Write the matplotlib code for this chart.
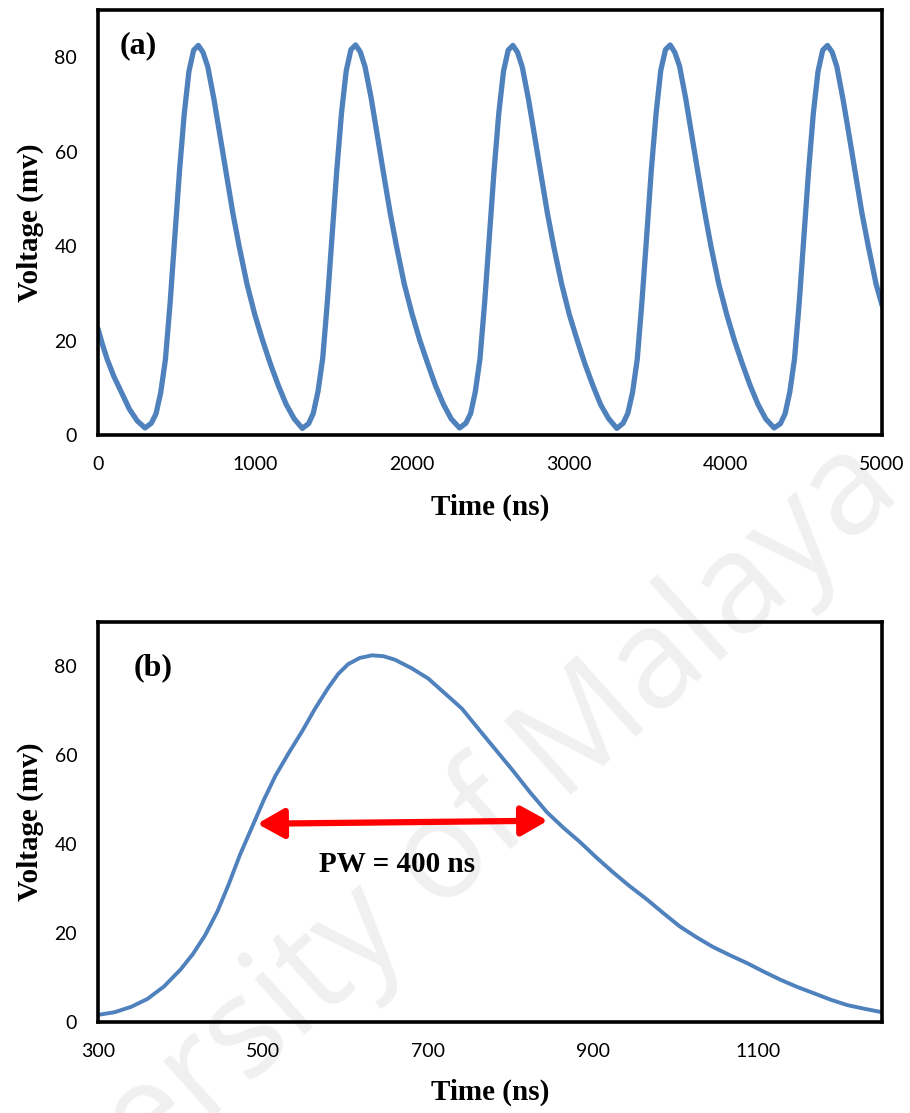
"""
Pulse train (a) and single pulse (b), voltage vs time
"""

# %% Imports

import matplotlib
matplotlib.use('Agg')
import matplotlib.pyplot as plt


# %% Data

# (a) pulse train, 0 - 5000 ns
time_a = [0, 30, 60, 100, 150, 200, 250,
          300, 340, 370, 400, 430, 460, 490, 520, 550, 580, 610, 640,
          670, 700, 740, 780, 820, 860, 900, 950, 1000, 1050, 1100, 1150,
          1200, 1250,
          1303, 1343, 1373, 1403, 1433, 1463, 1493, 1523, 1553, 1583, 1613,
          1643, 1673, 1703, 1743, 1783, 1823, 1863, 1903, 1953, 2003, 2053,
          2103, 2153, 2203, 2253,
          2306, 2346, 2376, 2406, 2436, 2466, 2496, 2526, 2556, 2586, 2616,
          2646, 2676, 2706, 2746, 2786, 2826, 2866, 2906, 2956, 3006, 3056,
          3106, 3156, 3206, 3256,
          3309, 3349, 3379, 3409, 3439, 3469, 3499, 3529, 3559, 3589, 3619,
          3649, 3679, 3709, 3749, 3789, 3829, 3869, 3909, 3959, 4009, 4059,
          4109, 4159, 4209, 4259,
          4312, 4352, 4382, 4412, 4442, 4472, 4502, 4532, 4562, 4592, 4622,
          4652, 4682, 4712, 4752, 4792, 4832, 4872, 4912, 4962, 5000]
volt_a = [22.5, 19.0, 15.9, 12.5, 9.0, 5.5, 3.0,
          1.5, 2.5, 4.5, 9.0, 16.0, 28.0, 42.0, 56.0, 68.0, 77.0, 81.5, 82.5,
          81.0, 78.0, 71.0, 63.0, 55.0, 47.0, 40.0, 32.0, 25.5, 20.0, 15.0,
          10.5, 6.5, 3.5,
          1.4, 2.4, 4.6, 9.2, 16.2, 28.3, 42.2, 56.1, 68.2, 77.1, 81.6,
          82.6, 81.1, 78.0, 71.2, 63.1, 55.0, 47.1, 40.1, 32.0, 25.6, 20.0,
          15.1, 10.4, 6.5, 3.4,
          1.5, 2.5, 4.5, 9.1, 16.1, 28.1, 42.1, 56.0, 68.1, 77.0, 81.5,
          82.5, 81.0, 77.9, 71.0, 63.0, 55.1, 47.0, 40.0, 32.1, 25.5, 20.1,
          15.0, 10.5, 6.4, 3.5,
          1.4, 2.5, 4.6, 9.0, 16.0, 28.2, 42.0, 56.2, 68.0, 77.2, 81.6,
          82.6, 81.0, 78.1, 71.1, 63.0, 55.0, 47.2, 40.0, 32.0, 25.6, 20.0,
          15.1, 10.5, 6.5, 3.4,
          1.5, 2.4, 4.5, 9.1, 16.1, 28.0, 42.1, 56.0, 68.1, 77.0, 81.5,
          82.5, 81.1, 78.0, 71.0, 63.1, 55.0, 47.0, 40.1, 32.0, 27.5]

# (b) single pulse, 300 - 1250 ns
time_b = [300, 320, 340, 360, 380, 400, 415, 430, 445, 458, 472, 487,
          501, 515, 531, 547, 563, 579, 591, 603, 617, 632, 646, 660, 680,
          700, 720, 741, 763, 783, 803, 823, 844, 864, 884, 904, 924, 944,
          965, 985, 1005, 1025, 1045, 1066, 1087, 1107, 1127, 1147, 1167,
          1188, 1208, 1228, 1250]
volt_b = [1.6, 2.2, 3.4, 5.2, 8.0, 11.8, 15.3, 19.6, 25.0, 30.8, 37.6,
          44.0, 50.0, 55.4, 60.5, 65.3, 70.5, 75.2, 78.3, 80.5, 81.9, 82.5,
          82.3, 81.5, 79.6, 77.3, 74.0, 70.5, 65.5, 61.0, 56.5, 51.8, 47.2,
          43.7, 40.5, 37.0, 33.7, 30.6, 27.6, 24.5, 21.5, 19.1, 16.9, 15.0,
          13.2, 11.3, 9.5, 7.9, 6.5, 5.0, 3.8, 3.0, 2.2]

# pulse width arrow ends (ns, mV)
pw_left = (493, 44.6)
pw_right = (845, 45.3)

yticks = [0, 20, 40, 60, 80]
xticks_a = [0, 1000, 2000, 3000, 4000, 5000]
xticks_b = [300, 500, 700, 900, 1100]


# %% Figure

blue = '#4F81BD'
serif = 'Liberation Serif'
tickfont = 'Lato'

fig = plt.figure(figsize=(9.1, 11.13), dpi=100)

# watermark behind everything
bg = fig.add_axes([0, 0, 1, 1], zorder=-1)
bg.axis('off')
bg.text(0.432, 0.186, 'University of Malaya', transform=bg.transAxes,
        rotation=42, ha='center', va='center', fontsize=100,
        family='Open Sans', color='#F0F0F0')


def style_axes(ax):
    """
    Excel-like frame: thick black box, no tick marks
    """
    for s in ax.spines.values():
        s.set_linewidth(2.6)
        s.set_color('black')
    ax.set_facecolor('none')
    ax.tick_params(length=0, pad=15, labelsize=14)
    for lab in ax.get_xticklabels() + ax.get_yticklabels():
        lab.set_family(tickfont)


# %% (a) pulse train

ax1 = fig.add_axes([98 / 910, 1 - 435 / 1113, 784 / 910, 425 / 1113])
ax1.plot(time_a, volt_a, color=blue, lw=3.8, solid_joinstyle='round',
         solid_capstyle='round')
ax1.set_xlim(0, 5000)
ax1.set_ylim(0, 90)
ax1.set_xticks(xticks_a)
ax1.set_yticks(yticks)
style_axes(ax1)
ax1.text(0.028, 0.915, '(a)', transform=ax1.transAxes, fontsize=23,
         fontweight='bold', family=serif, va='center')


# %% (b) single pulse

ax2 = fig.add_axes([98 / 910, 1 - 1022 / 1113, 784 / 910, 400 / 1113])
ax2.plot(time_b, volt_b, color=blue, lw=2.8, solid_joinstyle='round')
ax2.set_xlim(300, 1250)
ax2.set_ylim(0, 90)
ax2.set_xticks(xticks_b)
ax2.set_yticks(yticks)
style_axes(ax2)
ax2.text(0.045, 0.885, '(b)', transform=ax2.transAxes, fontsize=23,
         fontweight='bold', family=serif, va='center')

ax2.annotate('', xy=pw_left, xytext=pw_right,
             arrowprops=dict(arrowstyle='<|-|>,head_length=0.8,head_width=0.45',
                             color='#FF0000', lw=4.5, mutation_scale=20,
                             shrinkA=0, shrinkB=0))
ax2.text(662, 35.5, 'PW = 400 ns', fontsize=21, fontweight='bold',
         family=serif, ha='center', va='center')


# %% Axis labels

for yc in [(435 + 10) / 2, (1022 + 622) / 2]:
    fig.text(30 / 910, 1 - yc / 1113, 'Voltage (mv)', rotation=90,
             ha='center', va='center', fontsize=21, fontweight='bold',
             family=serif)
for yc in [507, 1092]:
    fig.text(490 / 910, 1 - yc / 1113, 'Time (ns)', ha='center',
             va='center', fontsize=21, fontweight='bold', family=serif)

fig.savefig('out.png', dpi=100)
